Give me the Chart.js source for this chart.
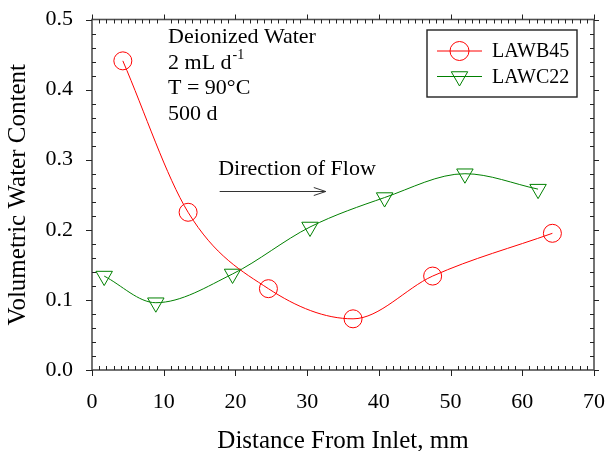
<!DOCTYPE html>
<html>
<head>
<meta charset="utf-8">
<title>Volumetric Water Content</title>
<script src="https://cdn.jsdelivr.net/npm/chart.js@4/dist/chart.umd.min.js"></script>
<style>
  html, body { margin: 0; padding: 0; background: #fff; }
  #wrap { width: 608px; height: 451px; }
</style>
</head>
<body>
<div id="wrap"><canvas id="myChart" width="608" height="451"></canvas></div>
<script>
// ── Data ──────────────────────────────────────
const seriesNames = ['LAWB45', 'LAWC22'];

const lawb45X = [4.3, 13.4, 24.6, 36.4, 47.5, 64.2];
const lawb45Y = [0.441, 0.225, 0.116, 0.073, 0.134, 0.195];

const lawc22X = [1.7, 8.9, 19.6, 30.4, 40.8, 52.0, 62.2];
const lawc22Y = [0.134, 0.096, 0.137, 0.204, 0.246, 0.280, 0.258];

const xTickValues = [0, 10, 20, 30, 40, 50, 60, 70];
const xTickLabels = ['0', '10', '20', '30', '40', '50', '60', '70'];
const yTickValues = [0, 0.1, 0.2, 0.3, 0.4, 0.5];
const yTickLabels = ['0.0', '0.1', '0.2', '0.3', '0.4', '0.5'];

const noteLines = ['Deionized Water', '2 mL d', 'T = 90°C', '500 d'];

const SERIF = "'Liberation Serif', 'Times New Roman', serif";
const RED = '#ff0000';
const GREEN = '#008000';

function toPoints(xs, ys) {
  return xs.map((x, i) => ({ x, y: ys[i] }));
}

// triangle like Chart.js draws it (radius on circumscribed circle)
function drawTriangle(ctx, cx, cy, r, down) {
  let rad = down ? Math.PI : 0;
  ctx.beginPath();
  for (let k = 0; k < 3; k++) {
    const px = cx + Math.sin(rad) * r;
    const py = cy - Math.cos(rad) * r;
    if (k === 0) ctx.moveTo(px, py); else ctx.lineTo(px, py);
    rad += 2 * Math.PI / 3;
  }
  ctx.closePath();
  ctx.stroke();
}

// ── Frame, ticks, notes, arrow, legend ────────
const decor = {
  id: 'decor',
  afterDatasetsDraw(chart) {
    const { ctx, chartArea: a, scales: { x, y } } = chart;
    ctx.save();

    // frame
    ctx.strokeStyle = '#505050';
    ctx.lineWidth = 1.6;
    ctx.strokeRect(a.left, a.top, a.right - a.left, a.bottom - a.top);

    // tick marks: majors outward, minors inward
    ctx.strokeStyle = '#222';
    ctx.lineWidth = 1;
    ctx.beginPath();
    for (let v = 0; v <= 70; v += 1) {
      const px = Math.round(x.getPixelForValue(v)) + 0.5;
      if (v % 10 === 0) {
        ctx.moveTo(px, a.bottom); ctx.lineTo(px, a.bottom + 6);
        ctx.moveTo(px, a.top);    ctx.lineTo(px, a.top - 5);
      } else {
        ctx.moveTo(px, a.bottom); ctx.lineTo(px, a.bottom - 4);
        ctx.moveTo(px, a.top);    ctx.lineTo(px, a.top + 4);
      }
    }
    for (let k = 0; k <= 25; k++) {
      const py = Math.round(y.getPixelForValue(k * 0.02)) + 0.5;
      if (k % 5 === 0) {
        ctx.moveTo(a.left, py);  ctx.lineTo(a.left - 6, py);
        ctx.moveTo(a.right, py); ctx.lineTo(a.right + 5, py);
      } else {
        ctx.moveTo(a.left, py);  ctx.lineTo(a.left + 4, py);
        ctx.moveTo(a.right, py); ctx.lineTo(a.right - 4, py);
      }
    }
    ctx.stroke();

    // condition notes
    ctx.fillStyle = '#000';
    ctx.font = '22px ' + SERIF;
    ctx.textAlign = 'left';
    ctx.textBaseline = 'alphabetic';
    const nx = x.getPixelForValue(10.6);
    const ny = y.getPixelForValue(0.466);
    noteLines.forEach((t, i) => ctx.fillText(t, nx, ny + i * 25.5));
    const w2 = ctx.measureText(noteLines[1]).width;
    ctx.font = '14px ' + SERIF;
    ctx.fillText('-1', nx + w2 + 1, ny + 25.5 - 10);

    // flow direction
    ctx.font = '22px ' + SERIF;
    ctx.fillText('Direction of Flow', x.getPixelForValue(17.6), y.getPixelForValue(0.278));
    const ax0 = x.getPixelForValue(17.8);
    const ax1 = x.getPixelForValue(32.6);
    const ay = Math.round(y.getPixelForValue(0.255)) + 0.5;
    ctx.strokeStyle = '#333';
    ctx.lineWidth = 1;
    ctx.beginPath();
    ctx.moveTo(ax0, ay); ctx.lineTo(ax1, ay);
    ctx.moveTo(ax1 - 12, ay - 4); ctx.lineTo(ax1, ay); ctx.lineTo(ax1 - 12, ay + 4);
    ctx.stroke();

    // legend box
    const lx = 427, ly = 30, lw = 150, lh = 67;
    ctx.strokeStyle = '#222';
    ctx.lineWidth = 1.4;
    ctx.strokeRect(lx, ly, lw, lh);
    const rows = [ly + 21, ly + 46.5];
    const colors = [RED, GREEN];
    ctx.font = '20px ' + SERIF;
    ctx.textBaseline = 'middle';
    rows.forEach((ry, i) => {
      ctx.strokeStyle = colors[i];
      ctx.lineWidth = 1;
      ctx.beginPath();
      ctx.moveTo(lx + 10, ry); ctx.lineTo(lx + 55, ry);
      ctx.stroke();
      if (i === 0) {
        ctx.beginPath();
        ctx.arc(lx + 32.5, ry, 9.5, 0, Math.PI * 2);
        ctx.stroke();
      } else {
        drawTriangle(ctx, lx + 32.5, ry, 9.5, true);
      }
      ctx.fillStyle = '#000';
      ctx.fillText(seriesNames[i], lx + 65, ry + 1);
    });

    ctx.restore();
  }
};

const ctx = document.getElementById('myChart').getContext('2d');

new Chart(ctx, {
  type: 'scatter',
  data: {
    datasets: [
      {
        label: seriesNames[0],
        data: toPoints(lawb45X, lawb45Y),
        showLine: true,
        borderColor: RED,
        borderWidth: 1,
        backgroundColor: 'rgba(0,0,0,0)',
        pointStyle: 'circle',
        pointRadius: 9,
        pointBorderWidth: 1,
        pointBorderColor: RED,
        pointBackgroundColor: 'rgba(0,0,0,0)',
        cubicInterpolationMode: 'monotone',
        clip: false
      },
      {
        label: seriesNames[1],
        data: toPoints(lawc22X, lawc22Y),
        showLine: true,
        borderColor: GREEN,
        borderWidth: 1,
        backgroundColor: 'rgba(0,0,0,0)',
        pointStyle: 'triangle',
        rotation: 180,
        pointRadius: 9.5,
        pointBorderWidth: 1,
        pointBorderColor: GREEN,
        pointBackgroundColor: 'rgba(0,0,0,0)',
        cubicInterpolationMode: 'monotone',
        clip: false
      }
    ]
  },
  options: {
    responsive: false,
    animation: false,
    events: [],
    layout: { padding: { top: 19.5, right: 14, left: 0, bottom: 0 } },
    plugins: {
      legend: { display: false },
      tooltip: { enabled: false }
    },
    scales: {
      x: {
        type: 'linear',
        min: 0,
        max: 70,
        afterFit: s => {
          s.height = 81;
          s.paddingLeft = 0;
          s.paddingRight = 0;
        },
        afterBuildTicks: s => { s.ticks = xTickValues.map(v => ({ value: v })); },
        grid: { display: false, drawTicks: false },
        border: { display: false },
        ticks: {
          padding: 19,
          color: '#000',
          font: { family: SERIF, size: 22 },
          maxRotation: 0,
          callback: (v, i) => xTickLabels[i]
        },
        title: {
          display: true,
          text: 'Distance From Inlet, mm',
          color: '#000',
          font: { family: SERIF, size: 25 },
          padding: { top: 0, bottom: -5 }
        }
      },
      y: {
        type: 'linear',
        min: 0,
        max: 0.5,
        afterFit: s => {
          s.width = 92;
          s.paddingTop = 0;
          s.paddingBottom = 0;
        },
        afterBuildTicks: s => { s.ticks = yTickValues.map(v => ({ value: v })); },
        grid: { display: false, drawTicks: false },
        border: { display: false },
        ticks: {
          padding: 19,
          color: '#000',
          font: { family: SERIF, size: 22 },
          callback: (v, i) => yTickLabels[i]
        },
        title: {
          display: true,
          text: 'Volumetric Water Content',
          color: '#000',
          font: { family: SERIF, size: 25 },
          padding: { top: 3, bottom: 0 }
        }
      }
    }
  },
  plugins: [decor]
});
</script>
</body>
</html>
